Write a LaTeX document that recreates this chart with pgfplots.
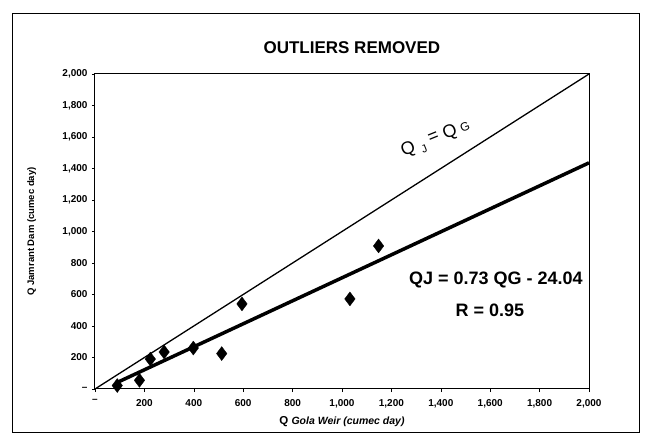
\documentclass[border=0pt]{standalone}
\usepackage{pgfplots}
\pgfplotsset{compat=1.18}
\usepackage{fontspec}
\setmainfont{Liberation Sans}

\pgfplotstableread{
x     y
90    22
180   55
224   190
280   235
398   260
513   225
595   540
1032  572
1148  908
}\observed

\begin{document}
\begin{tikzpicture}[x=1pt,y=1pt]
\useasboundingbox (0,0) rectangle (645,444);
\draw[line width=0.8pt] (12,12) rectangle (639,431);
\begin{axis}[
  at={(95pt,55pt)}, anchor=south west,
  scale only axis, width=494pt, height=315pt,
  xmin=0, xmax=2000, ymin=0, ymax=2000,
  axis line style={line width=1pt},
  xtick pos=bottom, ytick pos=left,
  tick align=outside, major tick length=3pt,
  tick style={black, line width=0.6pt},
  xtick={0,200,...,2000}, ytick={0,200,...,2000},
  xticklabels={--,200,400,600,800,{1,000},{1,200},{1,400},{1,600},{1,800},{2,000}},
  yticklabels={--,200,400,600,800,{1,000},{1,200},{1,400},{1,600},{1,800},{2,000}},
  /pgf/number format/assume math mode=true,
  ticklabel style={font=\fontsize{10}{11}\selectfont\bfseries},
  xticklabel style={yshift=-4pt},
  yticklabel style={xshift=-1pt},
  every axis x label/.style={at={(axis description cs:0.5,-0.104)},anchor=center},
  every axis y label/.style={at={(axis description cs:-0.128,0.5)},rotate=90,anchor=center},
  xlabel={\bfseries\fontsize{11.5}{12}\selectfont Q \itshape\fontsize{10.5}{12}\selectfont Gola Weir (cumec day)},
  ylabel={\bfseries\fontsize{9.5}{11}\selectfont Q Jamrant Dam (cumec day)},
  title={\bfseries\fontsize{17}{19}\selectfont OUTLIERS REMOVED},
  every axis title/.style={at={(axis description cs:0.52,1.083)},anchor=center},
  clip=false,
]
% line of equality
\addplot[black, line width=1.3pt] coordinates {(0,0) (2000,2000)};
% least-squares fit QJ = 0.73 QG - 24.04
\addplot[black, line width=3.5pt] coordinates {(90,41.66) (2000,1435.96)};
% observations
\addplot[only marks, mark=diamond*, mark size=7pt,
  mark options={fill=black, draw=black, line width=0.3pt}] table[x=x,y=y] {\observed};
\node[font=\bfseries\fontsize{18}{20}\selectfont, anchor=center] at (axis cs:1623,692) {QJ = 0.73 QG - 24.04};
\node[font=\bfseries\fontsize{18}{20}\selectfont, anchor=center] at (axis cs:1599,502) {R = 0.95};
\node[font=\fontsize{18}{20}\selectfont, rotate=22, anchor=center, inner sep=0pt] at (axis cs:1380,1585)
  {Q\kern5pt\raisebox{-5pt}{\fontsize{11}{12}\selectfont J}\kern5pt\raisebox{2pt}{=}\kern5pt Q\kern4pt{\fontsize{12}{13}\selectfont G}};
\end{axis}
\end{tikzpicture}
\end{document}
